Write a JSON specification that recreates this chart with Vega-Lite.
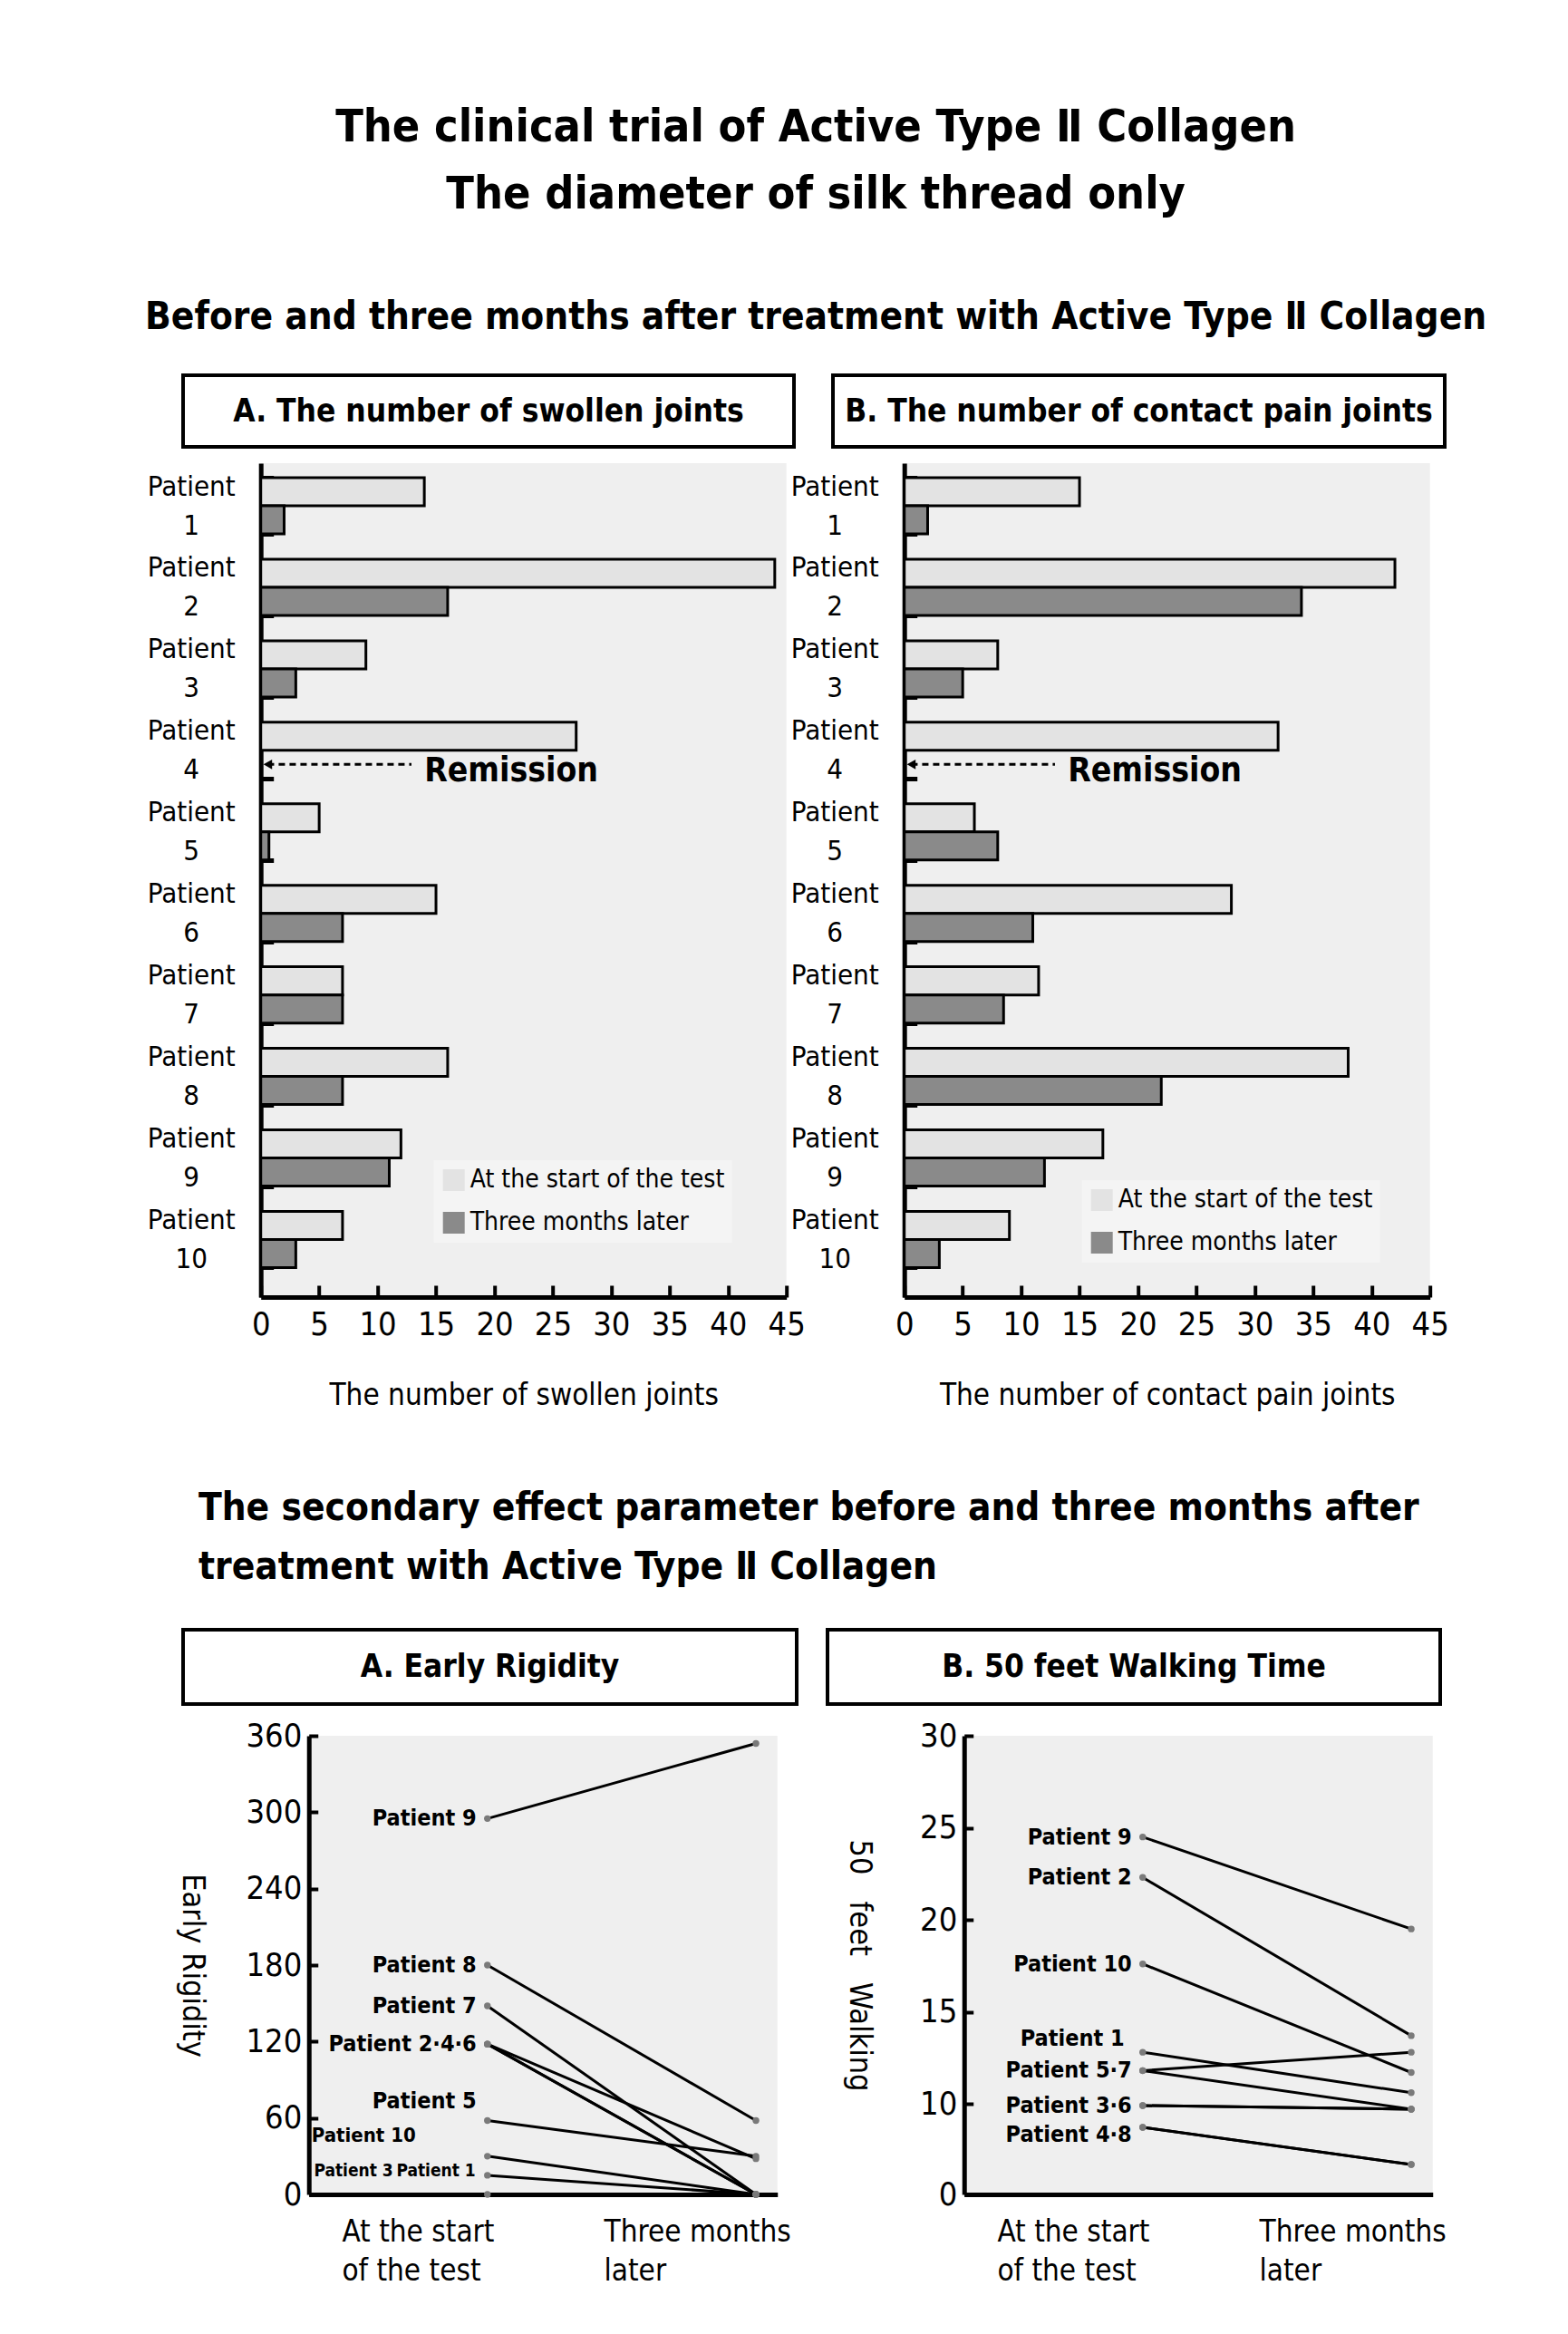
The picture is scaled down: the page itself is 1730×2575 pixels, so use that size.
{
  "$schema": "https://vega.github.io/schema/vega-lite/v6.json",
  "background": "white",
  "padding": {"left": 160, "top": 116, "right": 10, "bottom": 10},
  "config": {
    "font": "DejaVu Sans Condensed",
    "view": {"fill": "#efefef", "stroke": null},
    "axis": {"labelColor": "black", "titleColor": "black", "domainColor": "black", "tickColor": "black", "titleFontWeight": "normal", "grid": false, "labelFlush": false, "labelLimit": 500}
  },
  "title": {
    "text": ["The clinical trial of Active Type Ⅱ Collagen", "The diameter of silk thread only"],
    "subtitle": "Before and three months after treatment with Active Type Ⅱ Collagen",
    "anchor": "middle", "fontSize": 50, "fontWeight": "bold", "lineHeight": 74, "color": "black", "dx": -23,
    "subtitleFontSize": 42, "subtitleFontWeight": "bold", "subtitleColor": "black", "subtitlePadding": 90, "offset": 41
  },
  "datasets": {
    "joints": [
      {"patient": "1", "period": "At the start of the test", "swollen": 14, "pain": 15},
      {"patient": "1", "period": "Three months later", "swollen": 2, "pain": 2},
      {"patient": "2", "period": "At the start of the test", "swollen": 44, "pain": 42},
      {"patient": "2", "period": "Three months later", "swollen": 16, "pain": 34},
      {"patient": "3", "period": "At the start of the test", "swollen": 9, "pain": 8},
      {"patient": "3", "period": "Three months later", "swollen": 3, "pain": 5},
      {"patient": "4", "period": "At the start of the test", "swollen": 27, "pain": 32},
      {"patient": "4", "period": "Three months later", "swollen": 0, "pain": 0},
      {"patient": "5", "period": "At the start of the test", "swollen": 5, "pain": 6},
      {"patient": "5", "period": "Three months later", "swollen": 0.7, "pain": 8},
      {"patient": "6", "period": "At the start of the test", "swollen": 15, "pain": 28},
      {"patient": "6", "period": "Three months later", "swollen": 7, "pain": 11},
      {"patient": "7", "period": "At the start of the test", "swollen": 7, "pain": 11.5},
      {"patient": "7", "period": "Three months later", "swollen": 7, "pain": 8.5},
      {"patient": "8", "period": "At the start of the test", "swollen": 16, "pain": 38},
      {"patient": "8", "period": "Three months later", "swollen": 7, "pain": 22},
      {"patient": "9", "period": "At the start of the test", "swollen": 12, "pain": 17},
      {"patient": "9", "period": "Three months later", "swollen": 11, "pain": 12},
      {"patient": "10", "period": "At the start of the test", "swollen": 7, "pain": 9},
      {"patient": "10", "period": "Three months later", "swollen": 3, "pain": 3}
    ],
    "remission": [
      {"patient": "4", "period": "Three months later", "tip": 0.6, "end": 12.9, "labelAt": 14, "label": "Remission"}
    ],
    "rigidity": [
      {"patient": "1", "time": 1, "value": 15, "label": "Patient 1"},
      {"patient": "1", "time": 2, "value": 0},
      {"patient": "2", "time": 1, "value": 118, "label": "Patient 2·4·6"},
      {"patient": "2", "time": 2, "value": 28},
      {"patient": "3", "time": 1, "value": 0, "label": "Patient 3"},
      {"patient": "3", "time": 2, "value": 0},
      {"patient": "4", "time": 1, "value": 118},
      {"patient": "4", "time": 2, "value": 0},
      {"patient": "5", "time": 1, "value": 58, "label": "Patient 5"},
      {"patient": "5", "time": 2, "value": 30},
      {"patient": "6", "time": 1, "value": 118},
      {"patient": "6", "time": 2, "value": 0},
      {"patient": "7", "time": 1, "value": 148, "label": "Patient 7"},
      {"patient": "7", "time": 2, "value": 0},
      {"patient": "8", "time": 1, "value": 180, "label": "Patient 8"},
      {"patient": "8", "time": 2, "value": 58},
      {"patient": "9", "time": 1, "value": 295, "label": "Patient 9"},
      {"patient": "9", "time": 2, "value": 354},
      {"patient": "10", "time": 1, "value": 30, "label": "Patient 10"},
      {"patient": "10", "time": 2, "value": 0}
    ],
    "walking": [
      {"patient": "1", "time": 1, "value": 12.8, "label": "Patient 1"},
      {"patient": "1", "time": 2, "value": 10.6},
      {"patient": "2", "time": 1, "value": 22.3, "label": "Patient 2"},
      {"patient": "2", "time": 2, "value": 13.7},
      {"patient": "3", "time": 1, "value": 9.8, "label": "Patient 3·6"},
      {"patient": "3", "time": 2, "value": 9.4},
      {"patient": "4", "time": 1, "value": 7.4, "label": "Patient 4·8"},
      {"patient": "4", "time": 2, "value": 3.3},
      {"patient": "5", "time": 1, "value": 11.8, "label": "Patient 5·7"},
      {"patient": "5", "time": 2, "value": 12.8},
      {"patient": "6", "time": 1, "value": 9.8},
      {"patient": "6", "time": 2, "value": 9.4},
      {"patient": "7", "time": 1, "value": 11.8},
      {"patient": "7", "time": 2, "value": 9.4},
      {"patient": "8", "time": 1, "value": 7.4},
      {"patient": "8", "time": 2, "value": 3.3},
      {"patient": "9", "time": 1, "value": 24.5, "label": "Patient 9"},
      {"patient": "9", "time": 2, "value": 19.5},
      {"patient": "10", "time": 1, "value": 17.6, "label": "Patient 10"},
      {"patient": "10", "time": 2, "value": 11.7}
    ]
  },
  "vconcat": [
    {
      "vconcat": [
        {
          "hconcat": [
            {
              "width": 674, "height": 79,
              "view": {"fill": "white", "stroke": "black", "strokeWidth": 4},
              "data": {"values": [{"t": "A. The number of swollen joints"}]},
              "mark": {"type": "text", "fontSize": 35, "fontWeight": "bold", "color": "black"},
              "encoding": {"text": {"field": "t"}}
            },
            {
              "width": 675, "height": 79,
              "view": {"fill": "white", "stroke": "black", "strokeWidth": 4},
              "data": {"values": [{"t": "B. The number of contact pain joints"}]},
              "mark": {"type": "text", "fontSize": 35, "fontWeight": "bold", "color": "black"},
              "encoding": {"text": {"field": "t"}}
            },
            {
              "width": 49, "height": 79,
              "view": {"fill": null, "stroke": null},
              "data": {"values": [{"t": ""}]},
              "mark": {"type": "text"},
              "encoding": {"text": {"field": "t"}}
            }
          ],
          "spacing": 39
        },
        {
          "hconcat": [
            {
              "width": 580, "height": 920,
              "layer": [
                {
                  "data": {"name": "joints"},
                  "mark": {"type": "bar", "stroke": "black", "strokeWidth": 3},
                  "encoding": {
                    "y": {"field": "patient", "type": "nominal", "sort": ["1","2","3","4","5","6","7","8","9","10"],
                          "scale": {"paddingInner": 0.31, "paddingOuter": 0.27, "align": 0.33},
                          "axis": {"title": null, "labelExpr": "datum.label ? ['Patient', datum.label] : ''", "labelAlign": "center", "labelBaseline": "middle", "labelOffset": -21, "labelFontSize": 31, "labelLineHeight": 43, "labelPadding": 91, "tickBand": "extent", "tickSize": -14, "tickWidth": 5, "domainWidth": 5}},
                    "yOffset": {"field": "period", "type": "nominal", "sort": ["At the start of the test", "Three months later"], "scale": {"paddingInner": 0, "paddingOuter": 0}},
                    "x": {"field": "swollen", "type": "quantitative", "scale": {"domain": [0, 45], "nice": false},
                          "axis": {"values": [0,5,10,15,20,25,30,35,40,45], "title": "The number of swollen joints", "titleFontSize": 33, "titlePadding": 44, "labelFontSize": 36, "labelPadding": 26, "tickSize": -13, "tickWidth": 4, "domainWidth": 5}},
                    "color": {"field": "period", "type": "nominal", "sort": ["At the start of the test", "Three months later"], "scale": {"range": ["#e3e3e3", "#8a8a8a"]},
                              "legend": {"title": null, "orient": "none", "legendX": 191, "legendY": 769, "symbolType": "square", "symbolSize": 576, "symbolStrokeWidth": 0, "labelFontSize": 28, "labelLimit": 500, "rowPadding": 19, "fillColor": "#f4f4f4", "padding": 8, "labelColor": "black"}}
                  }
                },
                {
                  "data": {"name": "remission"},
                  "mark": {"type": "rule", "strokeDash": [7, 5], "strokeWidth": 3, "color": "black"},
                  "encoding": {
                    "y": {"field": "patient", "type": "nominal", "sort": ["1","2","3","4","5","6","7","8","9","10"]},
                    "yOffset": {"field": "period", "type": "nominal", "sort": ["At the start of the test", "Three months later"]},
                    "x": {"field": "tip", "type": "quantitative", "title": "The number of swollen joints"},
                    "x2": {"field": "end"}
                  }
                },
                {
                  "data": {"name": "remission"},
                  "mark": {"type": "point", "shape": "triangle-left", "filled": true, "color": "black", "size": 120, "opacity": 1},
                  "encoding": {
                    "y": {"field": "patient", "type": "nominal", "sort": ["1","2","3","4","5","6","7","8","9","10"]},
                    "yOffset": {"field": "period", "type": "nominal", "sort": ["At the start of the test", "Three months later"]},
                    "x": {"field": "tip", "type": "quantitative", "title": "The number of swollen joints"}
                  }
                },
                {
                  "data": {"name": "remission"},
                  "mark": {"type": "text", "align": "left", "baseline": "middle", "fontSize": 37, "fontWeight": "bold", "color": "black", "dy": 8},
                  "encoding": {
                    "y": {"field": "patient", "type": "nominal", "sort": ["1","2","3","4","5","6","7","8","9","10"]},
                    "yOffset": {"field": "period", "type": "nominal", "sort": ["At the start of the test", "Three months later"]},
                    "x": {"field": "labelAt", "type": "quantitative", "title": "The number of swollen joints"},
                    "text": {"field": "label"}
                  }
                }
              ]
            },
            {
              "width": 580, "height": 920,
              "layer": [
                {
                  "data": {"name": "joints"},
                  "mark": {"type": "bar", "stroke": "black", "strokeWidth": 3},
                  "encoding": {
                    "y": {"field": "patient", "type": "nominal", "sort": ["1","2","3","4","5","6","7","8","9","10"],
                          "scale": {"paddingInner": 0.31, "paddingOuter": 0.27, "align": 0.33},
                          "axis": {"title": null, "labelExpr": "datum.label ? ['Patient', datum.label] : ''", "labelAlign": "center", "labelBaseline": "middle", "labelOffset": -21, "labelFontSize": 31, "labelLineHeight": 43, "labelPadding": 91, "tickBand": "extent", "tickSize": -14, "tickWidth": 5, "domainWidth": 5}},
                    "yOffset": {"field": "period", "type": "nominal", "sort": ["At the start of the test", "Three months later"], "scale": {"paddingInner": 0, "paddingOuter": 0}},
                    "x": {"field": "pain", "type": "quantitative", "scale": {"domain": [0, 45], "nice": false},
                          "axis": {"values": [0,5,10,15,20,25,30,35,40,45], "title": "The number of contact pain joints", "titleFontSize": 33, "titlePadding": 44, "labelFontSize": 36, "labelPadding": 26, "tickSize": -13, "tickWidth": 4, "domainWidth": 5}},
                    "color": {"field": "period", "type": "nominal", "sort": ["At the start of the test", "Three months later"], "scale": {"range": ["#e3e3e3", "#8a8a8a"]},
                              "legend": {"title": null, "orient": "none", "legendX": 196, "legendY": 791, "symbolType": "square", "symbolSize": 576, "symbolStrokeWidth": 0, "labelFontSize": 28, "labelLimit": 500, "rowPadding": 19, "fillColor": "#f4f4f4", "padding": 8, "labelColor": "black"}}
                  }
                },
                {
                  "data": {"name": "remission"},
                  "mark": {"type": "rule", "strokeDash": [7, 5], "strokeWidth": 3, "color": "black"},
                  "encoding": {
                    "y": {"field": "patient", "type": "nominal", "sort": ["1","2","3","4","5","6","7","8","9","10"]},
                    "yOffset": {"field": "period", "type": "nominal", "sort": ["At the start of the test", "Three months later"]},
                    "x": {"field": "tip", "type": "quantitative", "title": "The number of contact pain joints"},
                    "x2": {"field": "end"}
                  }
                },
                {
                  "data": {"name": "remission"},
                  "mark": {"type": "point", "shape": "triangle-left", "filled": true, "color": "black", "size": 120, "opacity": 1},
                  "encoding": {
                    "y": {"field": "patient", "type": "nominal", "sort": ["1","2","3","4","5","6","7","8","9","10"]},
                    "yOffset": {"field": "period", "type": "nominal", "sort": ["At the start of the test", "Three months later"]},
                    "x": {"field": "tip", "type": "quantitative", "title": "The number of contact pain joints"}
                  }
                },
                {
                  "data": {"name": "remission"},
                  "mark": {"type": "text", "align": "left", "baseline": "middle", "fontSize": 37, "fontWeight": "bold", "color": "black", "dy": 8},
                  "encoding": {
                    "y": {"field": "patient", "type": "nominal", "sort": ["1","2","3","4","5","6","7","8","9","10"]},
                    "yOffset": {"field": "period", "type": "nominal", "sort": ["At the start of the test", "Three months later"]},
                    "x": {"field": "labelAt", "type": "quantitative", "title": "The number of contact pain joints"},
                    "text": {"field": "label"}
                  }
                }
              ]
            }
          ],
          "spacing": 130,
          "bounds": "flush",
          "resolve": {"legend": {"color": "independent"}}
        }
      ],
      "spacing": 0,
      "center": true
    },
    {
      "title": {"text": ["The secondary effect parameter before and three months after", "treatment with Active Type Ⅱ Collagen"], "anchor": "start", "fontSize": 42, "fontWeight": "bold", "lineHeight": 65, "offset": 45, "color": "black", "dx": 24},
      "vconcat": [
        {
          "hconcat": [
            {
              "width": 677, "height": 82,
              "view": {"fill": "white", "stroke": "black", "strokeWidth": 4},
              "data": {"values": [{"t": "A. Early Rigidity"}]},
              "mark": {"type": "text", "fontSize": 35, "fontWeight": "bold", "color": "black"},
              "encoding": {"text": {"field": "t"}}
            },
            {
              "width": 676, "height": 82,
              "view": {"fill": "white", "stroke": "black", "strokeWidth": 4},
              "data": {"values": [{"t": "B. 50 feet Walking Time"}]},
              "mark": {"type": "text", "fontSize": 35, "fontWeight": "bold", "color": "black"},
              "encoding": {"text": {"field": "t"}}
            },
            {
              "width": 63, "height": 82,
              "view": {"fill": null, "stroke": null},
              "data": {"values": [{"t": ""}]},
              "mark": {"type": "text"},
              "encoding": {"text": {"field": "t"}}
            }
          ],
          "spacing": 30
        },
        {
          "hconcat": [
            {
              "width": 50, "height": 506,
              "view": {"fill": null, "stroke": null},
              "data": {"values": [{"t": ""}]},
              "mark": {"type": "text"},
              "encoding": {"text": {"field": "t"}}
            },
            {
              "hconcat": [
                {
                  "width": 517, "height": 506,
                  "data": {"name": "rigidity"},
                  "encoding": {
                    "x": {"field": "time", "type": "quantitative", "scale": {"domain": [0.335, 2.08], "nice": false, "zero": false},
                          "axis": {"values": [0.457, 1.433], "labelExpr": "datum.value < 1 ? ['At the start', 'of the test'] : ['Three months', 'later']", "labelAlign": "left", "labelBaseline": "top", "ticks": false, "title": null, "labelPadding": 25, "labelFontSize": 33, "labelLineHeight": 43, "domainWidth": 5}},
                    "y": {"field": "value", "type": "quantitative", "scale": {"domain": [0, 360], "nice": false},
                          "axis": {"values": [0, 60, 120, 180, 240, 300, 360], "title": "Early Rigidity", "titleAngle": 90, "titleFontSize": 34, "titlePadding": 76, "labelFontSize": 36, "labelPadding": 18, "tickSize": -10, "tickWidth": 4, "domainWidth": 5}}
                  },
                  "layer": [
                    {"mark": {"type": "line", "color": "black", "strokeWidth": 3}, "encoding": {"detail": {"field": "patient"}}},
                    {"mark": {"type": "point", "filled": true, "color": "#7a7a7a", "size": 55, "opacity": 1}},
                    {"transform": [{"filter": "datum.label && indexof(['Patient 10', 'Patient 3', 'Patient 5', 'Patient 1'], datum.label) < 0"}],
                     "mark": {"type": "text", "align": "right", "baseline": "middle", "dx": -12, "fontSize": 25, "fontWeight": "bold", "color": "black"},
                     "encoding": {"text": {"field": "label"}}},
                    {"transform": [{"filter": "datum.label == 'Patient 5'"}],
                     "mark": {"type": "text", "align": "right", "baseline": "middle", "dx": -12, "dy": -21, "fontSize": 25, "fontWeight": "bold", "color": "black"},
                     "encoding": {"text": {"field": "label"}}},
                    {"transform": [{"filter": "datum.label == 'Patient 10'"}],
                     "mark": {"type": "text", "align": "right", "baseline": "middle", "dx": -79, "dy": -23, "fontSize": 22, "fontWeight": "bold", "color": "black"},
                     "encoding": {"text": {"field": "label"}}},
                    {"transform": [{"filter": "datum.label == 'Patient 3'"}],
                     "mark": {"type": "text", "align": "right", "baseline": "middle", "dx": -104, "dy": -26, "fontSize": 19, "fontWeight": "bold", "color": "black"},
                     "encoding": {"text": {"field": "label"}}},
                    {"transform": [{"filter": "datum.label == 'Patient 1'"}],
                     "mark": {"type": "text", "align": "right", "baseline": "middle", "dx": -13, "dy": -5, "fontSize": 19, "fontWeight": "bold", "color": "black"},
                     "encoding": {"text": {"field": "label"}}}
                  ]
                },
                {
                  "width": 517, "height": 506,
                  "data": {"name": "walking"},
                  "encoding": {
                    "x": {"field": "time", "type": "quantitative", "scale": {"domain": [0.335, 2.08], "nice": false, "zero": false},
                          "axis": {"values": [0.457, 1.433], "labelExpr": "datum.value < 1 ? ['At the start', 'of the test'] : ['Three months', 'later']", "labelAlign": "left", "labelBaseline": "top", "ticks": false, "title": null, "labelPadding": 25, "labelFontSize": 33, "labelLineHeight": 43, "domainWidth": 5}},
                    "y": {"field": "value", "type": "quantitative", "scale": {"domain": [0, 10, 30], "range": [506, 406, 0], "nice": false, "zero": false},
                          "axis": {"values": [0, 10, 15, 20, 25, 30], "title": "50 \u00a0 feet \u00a0 Walking", "titleAngle": 90, "titleFontSize": 34, "titlePadding": 84, "labelFontSize": 36, "labelPadding": 18, "tickSize": -10, "tickWidth": 4, "domainWidth": 5}}
                  },
                  "layer": [
                    {"mark": {"type": "line", "color": "black", "strokeWidth": 3}, "encoding": {"detail": {"field": "patient"}}},
                    {"mark": {"type": "point", "filled": true, "color": "#7a7a7a", "size": 55, "opacity": 1}},
                    {"transform": [{"filter": "datum.label && indexof(['Patient 1', 'Patient 4·8'], datum.label) < 0"}],
                     "mark": {"type": "text", "align": "right", "baseline": "middle", "dx": -12, "fontSize": 25, "fontWeight": "bold", "color": "black"},
                     "encoding": {"text": {"field": "label"}}},
                    {"transform": [{"filter": "datum.label == 'Patient 1'"}],
                     "mark": {"type": "text", "align": "right", "baseline": "middle", "dx": -20, "dy": -15, "fontSize": 25, "fontWeight": "bold", "color": "black"},
                     "encoding": {"text": {"field": "label"}}},
                    {"transform": [{"filter": "datum.label == 'Patient 4·8'"}],
                     "mark": {"type": "text", "align": "right", "baseline": "middle", "dx": -12, "dy": 8, "fontSize": 25, "fontWeight": "bold", "color": "black"},
                     "encoding": {"text": {"field": "label"}}}
                  ]
                }
              ],
              "spacing": 206,
              "bounds": "flush"
            }
          ],
          "spacing": 0,
          "bounds": "flush"
        }
      ],
      "spacing": 15,
      "center": true
    }
  ],
  "spacing": 87,
  "center": true
}
